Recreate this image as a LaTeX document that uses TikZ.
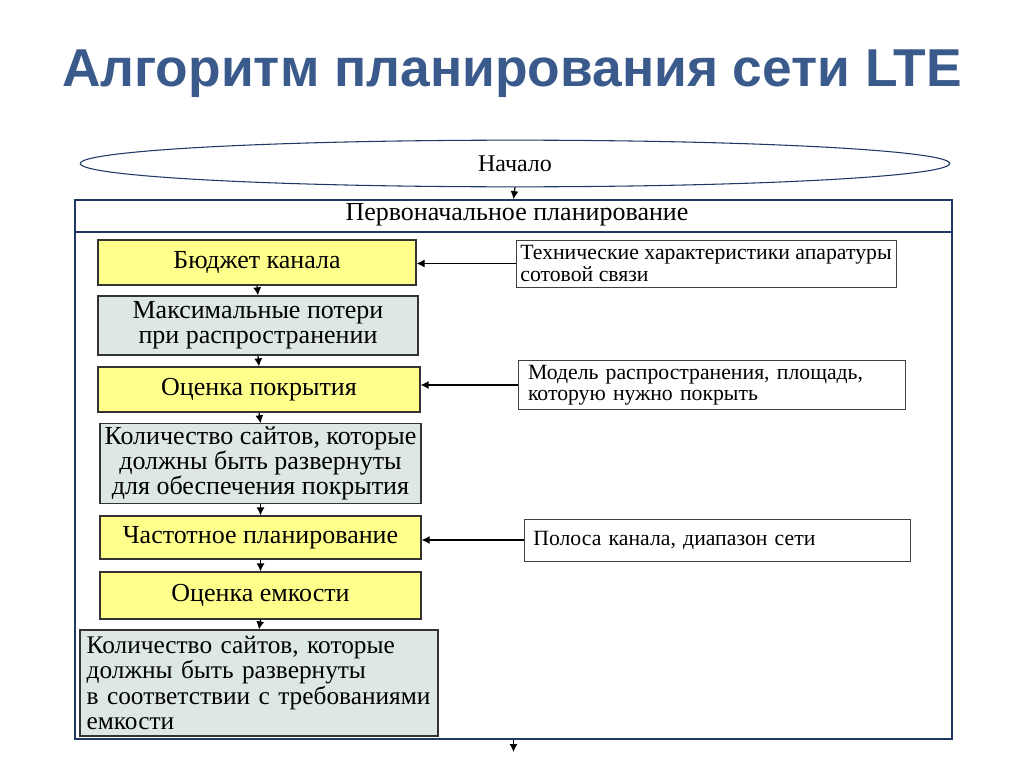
\documentclass[tikz,border=0pt]{standalone}
\usepackage{fontspec}
\setmainfont{Liberation Serif}
\newfontfamily\titlefont{Liberation Sans}
\usetikzlibrary{arrows.meta,shapes.geometric}

\begin{document}
\begin{tikzpicture}[x=0.75pt,y=-0.75pt,
    stepyellow/.style={draw=black!80,fill=cyell,line width=0.9pt,inner sep=2pt,
      font=\fontsize{19.5}{19}\selectfont,align=center},
    stepgray/.style={draw=black!80,fill=cgray,line width=0.9pt,inner sep=2pt,
      font=\fontsize{19.5}{19}\selectfont,align=center},
    inbox/.style={draw=black!75,fill=white,line width=0.7pt,inner ysep=3pt,
      font=\fontsize{16.3}{16}\selectfont,align=left,anchor=center},
    flow/.style={-{Latex[length=6pt,width=6pt]},line width=0.9pt}]
  \definecolor{cyell}{RGB}{255,255,140}
  \definecolor{cgray}{RGB}{221,232,230}
  \definecolor{cframe}{RGB}{31,56,100}
  \definecolor{ctitle}{RGB}{59,90,140}
  \useasboundingbox (0,0) rectangle (1024,767);
  % title
  \node[font=\titlefont\bfseries\fontsize{40}{44}\selectfont,text=ctitle] (title) at (512,74)
    {Алгоритм планирования сети LTE};
  % start and frame
  \node[ellipse,draw=cframe,line width=0.8pt,minimum width=652pt,minimum height=35pt,
    inner sep=0pt,font=\fontsize{18}{18}\selectfont] (start) at (515,163.5) {Начало};
  \node[draw=cframe,line width=1.3pt,minimum width=657.75pt,minimum height=404.25pt,
    inner sep=0pt] (plan) at (513.5,469.5) {};
  \draw[cframe,line width=1.3pt] ([yshift=-24.75pt]plan.north west) -- ([yshift=-24.75pt]plan.north east);
  \node[font=\fontsize{19.5}{19}\selectfont] (head) at (517,215) {Первоначальное планирование};
  \coordinate (endpt) at (513.5,752);
  \draw[flow] (start.south) -- (plan.north);
  \draw[flow] (plan.south) -- (endpt);
  % main steps
  \node[stepyellow,minimum width=238.5pt,minimum height=33.75pt] (b1) at (257,262.5) {Бюджет канала};
  \node[stepgray,minimum width=240pt,minimum height=44.25pt] (b2) at (258,325.5)
    {Максимальные потери\\при распространении};
  \node[stepyellow,minimum width=241.5pt,minimum height=33.75pt] (b3) at (259,389.5) {Оценка покрытия};
  \node[stepgray,minimum width=240.75pt,minimum height=59.25pt] (b4) at (260.5,463.5)
    {Количество сайтов, которые\\должны быть развернуты\\для обеспечения покрытия};
  \node[stepyellow,minimum width=240.75pt,minimum height=32.25pt] (b5) at (260.5,537.5) {Частотное планирование};
  \node[stepyellow,minimum width=240.75pt,minimum height=35.25pt] (b6) at (260.5,595.5) {Оценка емкости};
  \node[stepgray,align=left,inner xsep=5pt,text width=258.5pt,minimum height=79.5pt,
    font=\fontsize{19}{19}\selectfont] (b7) at (259,683)
    {Количество сайтов, которые\\должны быть развернуты\\в соответствии с требованиями\\емкости};
  \foreach \a/\b in {b1/b2,b2/b3,b3/b4,b4/b5,b5/b6,b6/b7}{%
    \draw[flow] (\a.south) -- (\b.north);
  }
  % inputs
  \node[inbox,inner xsep=2pt,minimum width=285pt,minimum height=35.25pt] (inA) at (706,263.5)
    {Технические характеристики апаратуры\\сотовой связи};
  \node[inbox,inner xsep=7.5pt,text width=275.25pt,minimum height=36pt] (inB) at (711.5,385)
    {Модель распространения, площадь,\\которую нужно покрыть};
  \node[inbox,inner xsep=7pt,text width=275.5pt,minimum height=31.5pt] (inC) at (717,540)
    {Полоса канала, диапазон сети};
  \draw[flow] (inA.west) -- (inA.west -| b1.east);
  \draw[flow] (inB.west) -- (inB.west -| b3.east);
  \draw[flow] (inC.west) -- (inC.west -| b5.east);
\end{tikzpicture}
\end{document}
